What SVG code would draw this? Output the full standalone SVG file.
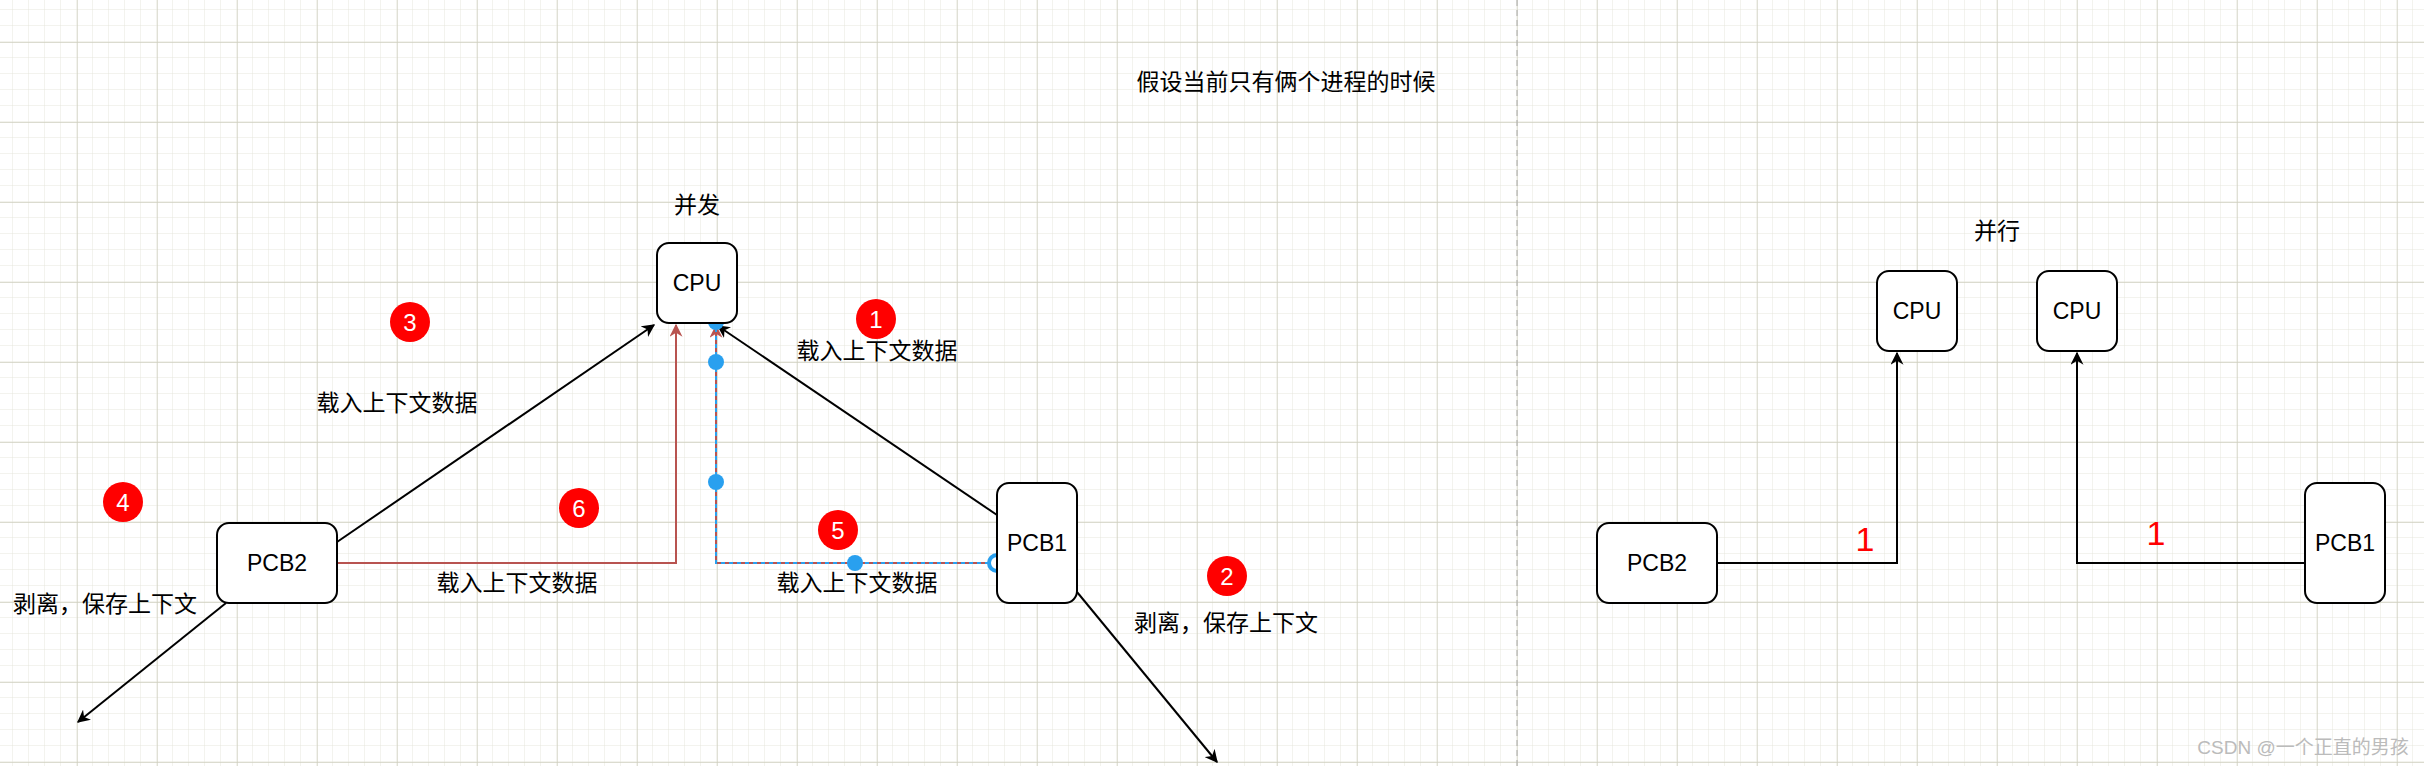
<svg xmlns="http://www.w3.org/2000/svg" width="2424" height="766" viewBox="0 0 2424 766">
<style>
.box{fill:#fff;stroke:#000;stroke-width:2}
.t{font-family:"Liberation Sans","Noto Sans CJK SC",sans-serif;font-size:23px;fill:#000;text-anchor:middle;dominant-baseline:central}
.e{fill:none;stroke:#000;stroke-width:2}
.badge{fill:#f00}
.bn{font-family:"Liberation Sans",sans-serif;font-size:24px;fill:#fff;text-anchor:middle;dominant-baseline:central}
.dot{fill:#29a0ef}
</style>
<defs>
<pattern id="minor" width="16" height="16" patternUnits="userSpaceOnUse" x="13" y="10">
<path d="M16 0V16M0 16H16" fill="none" stroke="#e6e6dc" stroke-width="1"/>
</pattern>
<pattern id="major" width="80" height="80" patternUnits="userSpaceOnUse" x="77" y="42">
<path d="M0 0V80M0 0H80" fill="none" stroke="#cfcfc0" stroke-width="1.3"/>
</pattern>
<marker id="ah" viewBox="0 0 10 10" refX="9" refY="5" markerWidth="13" markerHeight="13" markerUnits="userSpaceOnUse" orient="auto"><path d="M0 0L10 5L0 10L3 5Z" fill="#000"/></marker>
<marker id="ahr" viewBox="0 0 10 10" refX="9" refY="5" markerWidth="13" markerHeight="13" markerUnits="userSpaceOnUse" orient="auto"><path d="M0 0L10 5L0 10L3 5Z" fill="#b85450"/></marker>
</defs>
<rect width="2424" height="766" fill="#fff"/>
<rect width="2424" height="766" fill="url(#minor)"/>
<rect width="2424" height="766" fill="url(#major)"/>
<line x1="1517" y1="0" x2="1517" y2="766" stroke="#aaa" stroke-width="1" stroke-dasharray="6 4"/>

<g id="connectors">
<line class="e" x1="337" y1="542" x2="654" y2="325" marker-end="url(#ah)"/>
<line class="e" x1="997" y1="515" x2="718" y2="326" marker-end="url(#ah)"/>
<line class="e" x1="226" y1="603" x2="78" y2="722" marker-end="url(#ah)"/>
<line class="e" x1="1077" y1="592" x2="1217" y2="762" marker-end="url(#ah)"/>
<polyline fill="none" stroke="#b85450" stroke-width="2" points="337,563 676,563 676,325" marker-end="url(#ahr)"/>
<polyline fill="none" stroke="#b85450" stroke-width="2" points="997,563 716,563 716,326" marker-end="url(#ahr)"/>
<polyline fill="none" stroke="#29a0ef" stroke-width="2" stroke-dasharray="4 4" points="997,563 716,563 716,330"/>
<circle class="dot" cx="716" cy="322" r="8"/>
<circle class="dot" cx="716" cy="362" r="8"/>
<circle class="dot" cx="716" cy="482" r="8"/>
<circle class="dot" cx="855" cy="563" r="8"/>
<circle cx="997" cy="563" r="8" fill="#fff" stroke="#29a0ef" stroke-width="4"/>
<polyline class="e" points="1717,563 1897,563 1897,353" marker-end="url(#ah)"/>
<polyline class="e" points="2305,563 2077,563 2077,353" marker-end="url(#ah)"/>
</g>

<g id="cpu"><rect class="box" x="657" y="243" width="80" height="80" rx="12"/><text class="t" x="697" y="283">CPU</text></g>
<g id="pcb2"><rect class="box" x="217" y="523" width="120" height="80" rx="12"/><text class="t" x="277" y="563">PCB2</text></g>
<g id="pcb1"><rect class="box" x="997" y="483" width="80" height="120" rx="12"/><text class="t" x="1037" y="543">PCB1</text></g>
<g id="cpu-r1"><rect class="box" x="1877" y="271" width="80" height="80" rx="12"/><text class="t" x="1917" y="311">CPU</text></g>
<g id="cpu-r2"><rect class="box" x="2037" y="271" width="80" height="80" rx="12"/><text class="t" x="2077" y="311">CPU</text></g>
<g id="pcb2-r"><rect class="box" x="1597" y="523" width="120" height="80" rx="12"/><text class="t" x="1657" y="563">PCB2</text></g>
<g id="pcb1-r"><rect class="box" x="2305" y="483" width="80" height="120" rx="12"/><text class="t" x="2345" y="543">PCB1</text></g>

<g id="labels">
<text class="t" x="1286" y="82">假设当前只有俩个进程的时候</text>
<text class="t" x="697" y="205">并发</text>
<text class="t" x="1997" y="231">并行</text>
<text class="t" x="877" y="351">载入上下文数据</text>
<text class="t" x="397" y="403">载入上下文数据</text>
<text class="t" x="517" y="583">载入上下文数据</text>
<text class="t" x="857" y="583">载入上下文数据</text>
<text class="t" x="105" y="604">剥离，保存上下文</text>
<text class="t" x="1226" y="623">剥离，保存上下文</text>
<text class="t" x="1865" y="539" style="fill:#f00;font-size:34px">1</text>
<text class="t" x="2156" y="533" style="fill:#f00;font-size:34px">1</text>
<text class="t" x="2303" y="747" style="fill:#bbb;font-size:19px">CSDN @一个正直的男孩</text>
</g>

<g id="badges">
<g id="b1"><circle class="badge" cx="876" cy="319" r="20"/><text class="bn" x="876" y="319">1</text></g>
<g id="b2"><circle class="badge" cx="1227" cy="576" r="20"/><text class="bn" x="1227" y="576">2</text></g>
<g id="b3"><circle class="badge" cx="410" cy="322" r="20"/><text class="bn" x="410" y="322">3</text></g>
<g id="b4"><circle class="badge" cx="123" cy="502" r="20"/><text class="bn" x="123" y="502">4</text></g>
<g id="b5"><circle class="badge" cx="838" cy="530" r="20"/><text class="bn" x="838" y="530">5</text></g>
<g id="b6"><circle class="badge" cx="579" cy="508" r="20"/><text class="bn" x="579" y="508">6</text></g>
</g>
</svg>
